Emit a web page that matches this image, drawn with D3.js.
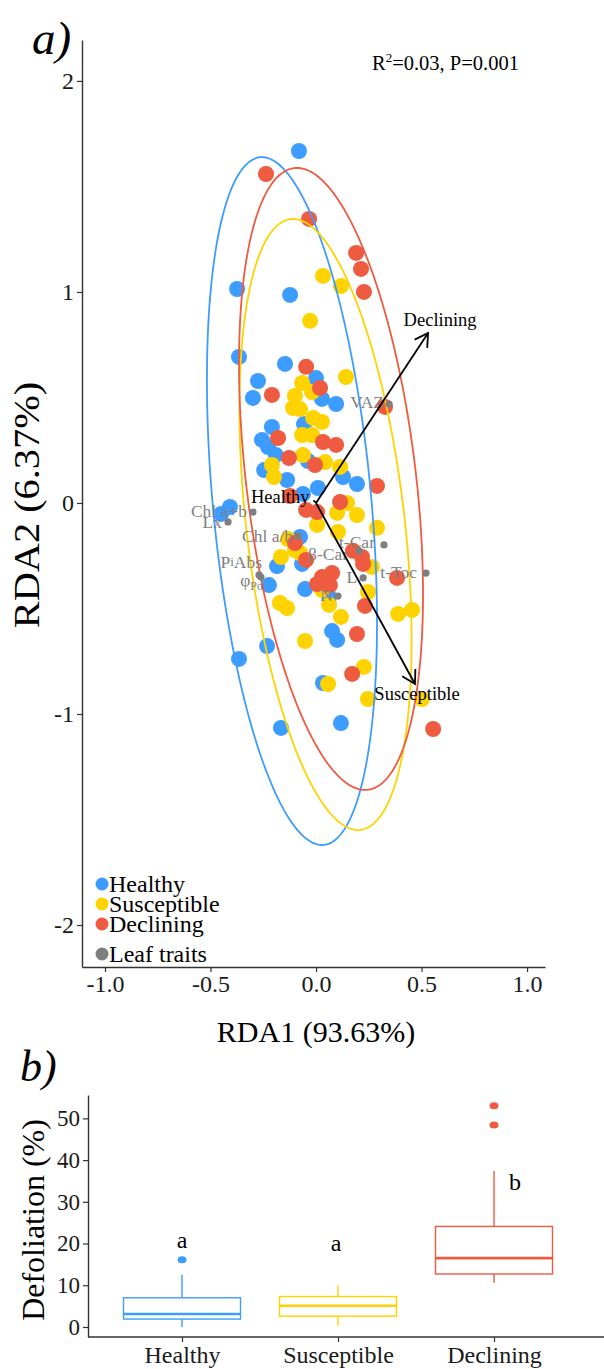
<!DOCTYPE html>
<html>
<head>
<meta charset="utf-8">
<script src="https://cdn.jsdelivr.net/npm/d3@7"></script>
<style>
  body { margin: 0; background: #fff; }
  svg { display: block; }
  text { font-family: "Liberation Serif", "Times New Roman", serif; }
</style>
</head>
<body>
<svg id="chart" width="604" height="1369"></svg>
<script>
// ---- Panel a: RDA ordination ----
const groups = ["Healthy", "Susceptible", "Declining"];
const groupColors = ["#3D9CFF", "#FFD300", "#EE5B40"];
const traitColor = "#7F7F7F";

// site scores [RDA1, RDA2]
const healthyScores = [
  [-0.081, 1.668], [-0.374, 1.014], [-0.123, 0.986], [-0.365, 0.692], [-0.147, 0.659],
  [-0.275, 0.578], [0.000, 0.592], [-0.299, 0.498], [0.028, 0.493], [0.095, 0.469],
  [-0.057, 0.374], [-0.209, 0.360], [-0.256, 0.299], [-0.227, 0.265], [-0.190, 0.227],
  [-0.038, 0.199], [-0.246, 0.156], [-0.137, 0.109], [0.128, 0.123], [0.194, 0.090],
  [0.009, 0.071], [-0.062, 0.043], [-0.408, -0.019], [-0.450, -0.052], [-0.076, -0.161],
  [-0.185, -0.299], [-0.066, -0.289], [-0.223, -0.389], [-0.052, -0.408], [0.062, -0.445],
  [0.076, -0.607], [0.100, -0.649], [-0.232, -0.678], [-0.365, -0.739], [0.033, -0.853],
  [-0.166, -1.066], [0.118, -1.043]
];
const susceptibleScores = [
  [0.033, 1.076], [0.118, 1.028], [-0.028, 0.863], [-0.066, 0.569], [0.142, 0.597],
  [-0.019, 0.526], [-0.100, 0.507], [-0.109, 0.450], [-0.076, 0.445], [-0.014, 0.403],
  [0.028, 0.384], [-0.066, 0.322], [-0.019, 0.322], [-0.062, 0.227], [0.043, 0.194],
  [0.114, 0.171], [-0.209, 0.180], [-0.199, 0.123], [0.147, 0.000], [0.194, -0.057],
  [0.100, -0.047], [0.005, -0.104], [0.289, -0.118], [0.104, -0.137], [-0.133, -0.171],
  [-0.100, -0.223], [-0.166, -0.256], [-0.076, -0.237], [0.265, -0.303], [0.028, -0.412],
  [0.246, -0.422], [-0.171, -0.474], [-0.137, -0.498], [0.062, -0.483], [0.118, -0.540],
  [0.389, -0.526], [0.455, -0.507], [-0.052, -0.654], [0.227, -0.777], [0.057, -0.858],
  [0.246, -0.929], [0.502, -0.929]
];
const decliningScores = [
  [-0.237, 1.559], [-0.033, 1.346], [0.190, 1.185], [0.213, 1.109], [0.227, 1.000],
  [-0.047, 0.645], [-0.209, 0.512], [0.019, 0.545], [0.327, 0.455], [-0.180, 0.308],
  [0.033, 0.289], [0.095, 0.275], [-0.128, 0.213], [-0.005, 0.180], [0.289, 0.081],
  [-0.123, 0.033], [-0.047, -0.033], [0.005, -0.043], [0.114, 0.005], [-0.100, -0.190],
  [0.175, -0.227], [0.218, -0.256], [0.223, -0.289], [-0.047, -0.270], [0.384, -0.355],
  [0.076, -0.332], [0.028, -0.351], [0.005, -0.384], [0.066, -0.389], [0.232, -0.488],
  [0.194, -0.621], [0.171, -0.810], [0.555, -1.071]
];

// 95% ellipses per group (centre, spread along each axis, correlation)
const ellipseCx = [-0.114, 0.045, 0.071];
const ellipseCy = [0.009, -0.102, 0.114];
const ellipseSx = [0.403, 0.408, 0.436];
const ellipseSy = [1.630, 1.448, 1.474];
const ellipseR  = [-0.353, -0.378, -0.370];

// leaf-trait scores
const traitNames = ["Chl a+b", "Lx", "Chl a/b", "\u03B2-Car", "t-Car", "t-Toc", "L", "N", "PiAbs", "\u03C6Po", "VAZ"];
const traitRDA1 = [-0.299, -0.417, -0.085, 0.204, 0.322, 0.521, 0.223, 0.104, -0.270, -0.261, 0.346];
const traitRDA2 = [-0.043, -0.090, -0.156, -0.227, -0.199, -0.332, -0.355, -0.441, -0.341, -0.351, 0.469];

// group (constraint) biplot arrows
const arrowRDA1 = [-0.012, 0.469, 0.531];
const arrowRDA2 = [0.012, -0.858, 0.806];

const xTicksA = [-1.0, -0.5, 0.0, 0.5, 1.0];
const yTicksA = [-2, -1, 0, 1, 2];

// ---- Panel b: defoliation boxplots ----
const boxLower  = [0.0, 0.3, 10.6];
const boxQ1     = [1.9, 2.6, 12.7];
const boxMedian = [3.1, 5.1, 16.5];
const boxQ3     = [7.0, 7.3, 24.1];
const boxUpper  = [12.5, 10.0, 37.4];
const boxOutliers = [[16.1], [], [48.4, 53.0]];
const groupLetters = ["a", "a", "b"];
const letterValue  = [20.5, 20.0, 34.5];
const yTicksB = [0, 10, 20, 30, 40, 50];

const svg = d3.select("#chart");
const axisColor = "#333";

// ================= Panel a =================
const x = d3.scaleLinear().domain([-1.109, 1.085]).range([82, 545]);
const y = d3.scaleLinear().domain([-2.199, 2.194]).range([967, 40]);

function styleAxis(g, size) {
  g.select(".domain").attr("stroke", axisColor).attr("stroke-width", 1.4);
  g.selectAll(".tick line").attr("stroke", axisColor).attr("stroke-width", 1.2);
  g.selectAll(".tick text").attr("fill", "#1a1a1a").attr("font-size", size);
}

const gxA = svg.append("g").attr("transform", "translate(0,967)")
  .call(d3.axisBottom(x).tickValues(xTicksA).tickFormat(d => d.toFixed(1))
    .tickSize(5).tickSizeOuter(0).tickPadding(3));
styleAxis(gxA, 24);
const gyA = svg.append("g").attr("transform", "translate(82,0)")
  .call(d3.axisLeft(y).tickValues(yTicksA).tickFormat(d => String(d))
    .tickSize(5).tickSizeOuter(0).tickPadding(3));
styleAxis(gyA, 24);

// points
const scoreSets = [healthyScores, susceptibleScores, decliningScores];
scoreSets.forEach((set, gi) => {
  svg.append("g").selectAll("circle").data(set).join("circle")
    .attr("cx", d => x(d[0])).attr("cy", d => y(d[1])).attr("r", 8)
    .attr("fill", groupColors[gi]);
});

// ellipses
const ellipseLine = d3.line();
groups.forEach((g, gi) => {
  const r = ellipseR[gi];
  const pts = d3.range(0, 181).map(i => {
    const t = i / 180 * 2 * Math.PI;
    const c = Math.cos(t), s = Math.sin(t);
    return [x(ellipseCx[gi] + ellipseSx[gi] * c),
            y(ellipseCy[gi] + ellipseSy[gi] * (r * c + Math.sqrt(1 - r * r) * s))];
  });
  svg.append("path").attr("d", ellipseLine(pts)).attr("fill", "none")
    .attr("stroke", groupColors[gi]).attr("stroke-width", 1.8);
});

// leaf traits
const traitNudge = [[-6, 5], [-6, 6], [-5, 6], [-11, 9], [-9, 3], [-9, 5], [-6, 5], [-5, 5], [3, -7], [2, 9], [-5, 4]];
const traitG = svg.append("g");
traitNames.forEach((name, i) => {
  const cx = x(traitRDA1[i]), cy = y(traitRDA2[i]);
  traitG.append("circle").attr("cx", cx).attr("cy", cy).attr("r", 3.6).attr("fill", traitColor);
  const t = traitG.append("text").attr("x", cx + traitNudge[i][0]).attr("y", cy + traitNudge[i][1])
    .attr("text-anchor", "end").attr("font-size", 17.5).attr("fill", traitColor);
  if (name === "\u03C6Po") {
    t.append("tspan").text("\u03C6");
    t.append("tspan").attr("font-size", 12).attr("dy", 4).text("Po");
  } else if (name === "PiAbs") {
    t.append("tspan").text("P");
    t.append("tspan").attr("font-size", 13).attr("dy", -2).text("i");
    t.append("tspan").attr("dy", 2).text("Abs");
  } else {
    t.text(name);
  }
});

// arrows
const ox = x(0), oy = y(0);
const labelNudge = [[-4, 3], [2, 16], [12, -7]];
const labelAnchor = ["end", "middle", "middle"];
groups.forEach((g, gi) => {
  const tx = x(arrowRDA1[gi]), ty = y(arrowRDA2[gi]);
  svg.append("line").attr("x1", ox).attr("y1", oy).attr("x2", tx).attr("y2", ty)
    .attr("stroke", "#000").attr("stroke-width", 1.8);
  const len = Math.hypot(tx - ox, ty - oy);
  if (len > 30) {
    const ang = Math.atan2(ty - oy, tx - ox);
    const hl = 15, ha = 30 * Math.PI / 180;
    const p1 = [tx - hl * Math.cos(ang - ha), ty - hl * Math.sin(ang - ha)];
    const p2 = [tx - hl * Math.cos(ang + ha), ty - hl * Math.sin(ang + ha)];
    svg.append("path").attr("d", `M${p1[0]},${p1[1]}L${tx},${ty}L${p2[0]},${p2[1]}`)
      .attr("fill", "none").attr("stroke", "#000").attr("stroke-width", 1.8);
  }
  svg.append("text").attr("x", tx + labelNudge[gi][0]).attr("y", ty + labelNudge[gi][1])
    .attr("text-anchor", labelAnchor[gi]).attr("font-size", 18.5).attr("fill", "#000").text(g);
});

// statistic
const stat = svg.append("text").attr("x", 372).attr("y", 70).attr("font-size", 20.5).attr("fill", "#000");
stat.append("tspan").text("R");
stat.append("tspan").attr("font-size", 13).attr("dy", -8).text("2");
stat.append("tspan").attr("dy", 8).text("=0.03, P=0.001");

// legend
const legendItems = groups.map((g, i) => ({ label: g, color: groupColors[i] }))
  .concat([{ label: "Leaf traits", color: traitColor }]);
const legendY = [884, 904, 924, 954];
legendItems.forEach((d, i) => {
  svg.append("circle").attr("cx", 102).attr("cy", legendY[i]).attr("r", 6.5).attr("fill", d.color);
  svg.append("text").attr("x", 109).attr("y", legendY[i] + 8).attr("font-size", 24)
    .attr("fill", "#000").text(d.label);
});

// titles
svg.append("text").attr("x", 316).attr("y", 1042).attr("text-anchor", "middle")
  .attr("font-size", 30).attr("fill", "#000").text("RDA1 (93.63%)");
svg.append("text").attr("transform", "translate(39,505) scale(1,1.12) rotate(-90)").attr("text-anchor", "middle")
  .attr("font-size", 36).attr("fill", "#000").text("RDA2 (6.37%)");
svg.append("text").attr("x", 32).attr("y", 54).attr("font-size", 47).attr("font-style", "italic")
  .attr("fill", "#000").text("a)");

// ================= Panel b =================
const yB = d3.scaleLinear().domain([-2.4, 55.6]).range([1337, 1095]);
const xB = d3.scalePoint().domain(groups).range([182, 494]);
const boxW = 117;

svg.append("text").attr("x", 20).attr("y", 1081).attr("font-size", 44).attr("font-style", "italic")
  .attr("fill", "#000").text("b)");

const gyB = svg.append("g").attr("transform", "translate(88,0)")
  .call(d3.axisLeft(yB).tickValues(yTicksB).tickFormat(d => String(d))
    .tickSize(5).tickSizeOuter(0).tickPadding(3));
styleAxis(gyB, 23);
svg.append("line").attr("x1", 88).attr("x2", 604).attr("y1", 1337).attr("y2", 1337)
  .attr("stroke", axisColor).attr("stroke-width", 1.4);
const gxB = svg.append("g").attr("transform", "translate(0,1337)")
  .call(d3.axisBottom(xB).tickSize(5).tickSizeOuter(0).tickPadding(4));
gxB.select(".domain").remove();
styleAxis(gxB, 24);

groups.forEach((g, i) => {
  const cx = xB(g), col = groupColors[i];
  const bg = svg.append("g");
  bg.append("line").attr("x1", cx).attr("x2", cx).attr("y1", yB(boxQ3[i])).attr("y2", yB(boxUpper[i]))
    .attr("stroke", col).attr("stroke-width", 1.4);
  bg.append("line").attr("x1", cx).attr("x2", cx).attr("y1", yB(boxQ1[i])).attr("y2", yB(boxLower[i]))
    .attr("stroke", col).attr("stroke-width", 1.4);
  bg.append("rect").attr("x", cx - boxW / 2).attr("width", boxW)
    .attr("y", yB(boxQ3[i])).attr("height", yB(boxQ1[i]) - yB(boxQ3[i]))
    .attr("fill", "#fff").attr("stroke", col).attr("stroke-width", 1.4);
  bg.append("line").attr("x1", cx - boxW / 2).attr("x2", cx + boxW / 2)
    .attr("y1", yB(boxMedian[i])).attr("y2", yB(boxMedian[i]))
    .attr("stroke", col).attr("stroke-width", 2.6);
  bg.selectAll("ellipse").data(boxOutliers[i]).join("ellipse")
    .attr("cx", cx).attr("cy", d => yB(d)).attr("rx", 4.5).attr("ry", 3.5).attr("fill", col);
});

const letterNudge = [0, -2, 21];
groups.forEach((g, i) => {
  svg.append("text").attr("x", xB(g) + letterNudge[i]).attr("y", yB(letterValue[i]) + 7)
    .attr("text-anchor", "middle").attr("font-size", 24).attr("fill", "#000").text(groupLetters[i]);
});

svg.append("text").attr("transform", "translate(44,1220) rotate(-90)").attr("text-anchor", "middle")
  .attr("font-size", 32).attr("fill", "#000").text("Defoliation (%)");
</script>
</body>
</html>
